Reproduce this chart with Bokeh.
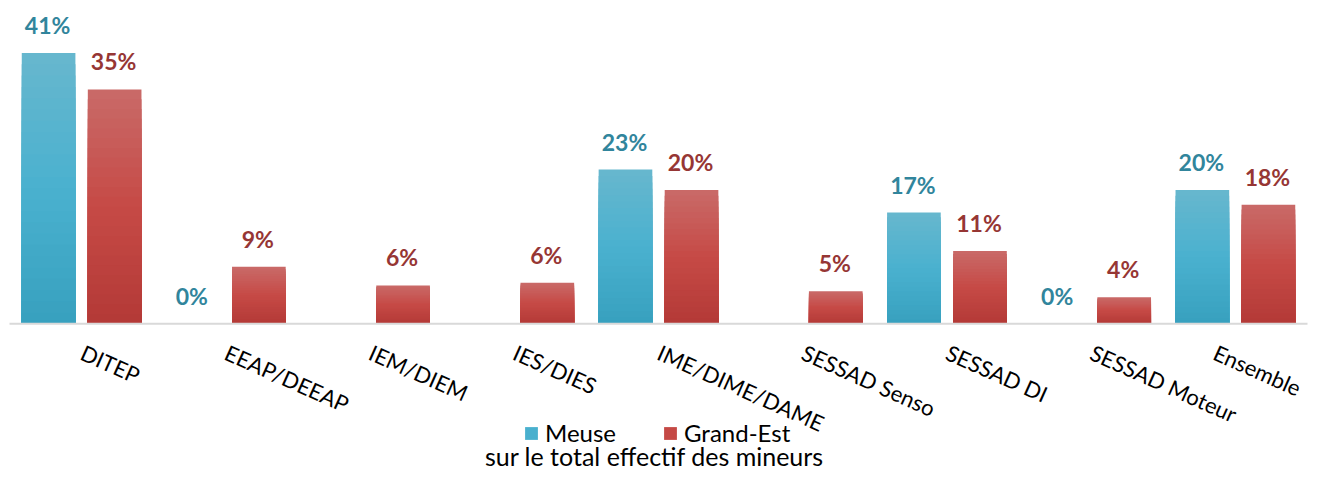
from bokeh.plotting import figure
from bokeh.models import Range1d, Legend, LegendItem
from bokeh.core.properties import value
from bokeh.embed import file_html
from bokeh.resources import INLINE

# ---------------- data ----------------
categories = ["DITEP", "EEAP/DEEAP", "IEM/DIEM", "IES/DIES", "IME/DIME/DAME",
              "SESSAD Senso", "SESSAD DI", "SESSAD Moteur", "Ensemble"]
meuse = [40.9, 0.0, None, None, 23.3, None, 16.8, 0.0, 20.2]
grand_est = [35.4, 8.6, 5.8, 6.2, 20.2, 4.9, 11.0, 4.0, 18.0]
series_names = ["Meuse", "Grand-Est"]
caption = "sur le total effectif des mineurs"

# ---------------- style ----------------
FONT = "Lato"
grad_meuse = ("#66b7ce", "#4ab1cf", "#38a1bf")
grad_ge = ("#c96967", "#c64a46", "#b43a37")
label_colors = ["#31859c", "#963634"]
W, H = 1309, 470
left_px = 9.0
px_per_x = 1298 / 9.0
px_per_y = 6.62
base_px = 323.3

x0 = -left_px / px_per_x
p = figure(width=W, height=H, output_backend="svg", toolbar_location=None,
           x_range=Range1d(x0, x0 + W / px_per_x),
           y_range=Range1d(-(H - base_px) / px_per_y, base_px / px_per_y),
           min_border_left=0, min_border_right=0, min_border_top=0, min_border_bottom=0)
p.xaxis.visible = False
p.yaxis.visible = False
p.grid.visible = False
p.outline_line_color = None
p.background_fill_color = "white"
p.border_fill_color = "white"


def mix(c1, c2, t):
    a = [int(c1[i:i + 2], 16) for i in (1, 3, 5)]
    b = [int(c2[i:i + 2], 16) for i in (1, 3, 5)]
    return "#%02x%02x%02x" % tuple(round(a[k] + (b[k] - a[k]) * t) for k in range(3))


def grad(stops, t):
    if t < 0.5:
        return mix(stops[0], stops[1], t / 0.5)
    return mix(stops[1], stops[2], (t - 0.5) / 0.5)


offsets = [-0.229, 0.229]
bar_w = 0.372
N = 24
legend_renderers = []
for s, (vals, stops) in enumerate([(meuse, grad_meuse), (grand_est, grad_ge)]):
    xs = [i + 0.5 + offsets[s] for i, v in enumerate(vals) if v is not None and v > 0]
    vs = [v for v in vals if v is not None and v > 0]
    rep = None
    for k in range(N):
        t = k / (N - 1)
        tops = [v * (N - k) / N for v in vs]
        r = p.vbar(x=xs, top=tops, bottom=0, width=bar_w, fill_color=grad(stops, t),
                   line_color=None)
        if k == N // 2:
            rep = r
    legend_renderers.append(rep)

    # value labels
    lx = [i + 0.5 + offsets[s] for i, v in enumerate(vals) if v is not None]
    ly = [v for v in vals if v is not None]
    lt = ["%.0f%%" % v for v in vals if v is not None]
    p.text(x=lx, y=ly, text=lt, text_font=value(FONT), text_font_style="bold",
           text_font_size="23px", text_color=label_colors[s], text_align="center",
           text_baseline="alphabetic", y_offset=-28, x_offset=-1)

# baseline
p.segment(x0=[0], y0=[0], x1=[len(categories)], y1=[0], line_color="#d9d9d9", line_width=2)

# category labels (last one nudged so it stays inside the canvas)
lab_dx = [6] * len(categories)
lab_dx[-1] = -15
p.text(x=[i + 0.5 for i in range(len(categories))], y=[0] * len(categories), text=categories,
       text_font=value(FONT), text_font_size="22px", text_color="#000000",
       text_align="left", text_baseline="top", angle=-0.42, y_offset=15, x_offset=lab_dx)

# caption
p.text(x=[len(categories) / 2], y=[0], text=[caption], text_font=value(FONT),
       text_font_size="25px", text_color="#000000", text_align="center",
       text_baseline="alphabetic", y_offset=132, x_offset=-4)

legend = Legend(items=[LegendItem(label=series_names[i], renderers=[legend_renderers[i]])
                       for i in range(2)],
                orientation="horizontal", location=(523, 23),
                glyph_width=16, glyph_height=16, label_standoff=6, spacing=46,
                padding=0, margin=0, border_line_color=None, background_fill_alpha=0,
                label_text_font=FONT, label_text_font_size="24px", label_text_color="#000000")
p.add_layout(legend, "center")

open("out.html", "w").write(file_html(p, INLINE))
